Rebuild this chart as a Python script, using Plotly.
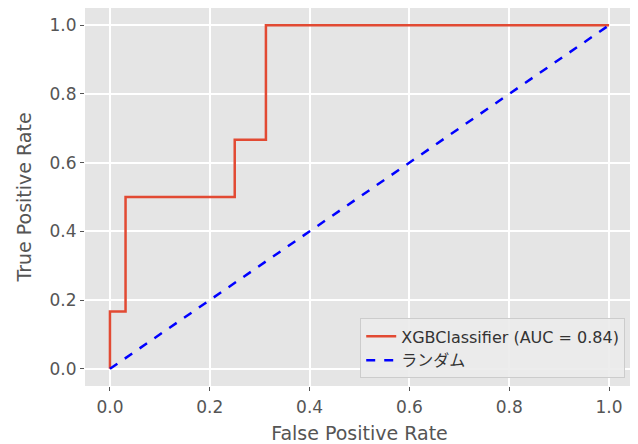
import plotly.graph_objects as go

fpr = [0.0, 0.0, 0.03125, 0.03125, 0.25, 0.25, 0.3125, 0.3125, 1.0]
tpr = [0.0, 0.1667, 0.1667, 0.5, 0.5, 0.6667, 0.6667, 1.0, 1.0]
rand_x = [0.0, 1.0]
rand_y = [0.0, 1.0]
tick_vals = [0.0, 0.2, 0.4, 0.6, 0.8, 1.0]
tick_text = ["0.0", "0.2", "0.4", "0.6", "0.8", "1.0"]

FONT = "DejaVu Sans, Noto Sans CJK JP, sans-serif"

fig = go.Figure()
fig.add_trace(go.Scatter(x=fpr, y=tpr, mode="lines", name="XGBClassifier (AUC = 0.84)",
                         line=dict(color="#E24A33", width=2.5)))
fig.add_trace(go.Scatter(x=rand_x, y=rand_y, mode="lines", name="ランダム",
                         line=dict(color="#0000FF", width=2.5, dash="dash")))

axis_common = dict(range=[-0.05, 1.05], tickvals=tick_vals, ticktext=tick_text,
                   showgrid=True, gridcolor="white", gridwidth=1.5, zeroline=False,
                   showline=False, ticks="outside", ticklen=4, tickwidth=1.2,
                   tickcolor="#555555", automargin=False,
                   tickfont=dict(size=17, color="#555555", family=FONT))

fig.update_layout(
    width=638, height=444,
    margin=dict(l=77, r=12, t=0, b=66, autoexpand=False),
    paper_bgcolor="white", plot_bgcolor="#E5E5E5",
    font=dict(family=FONT, color="#555555"),
    xaxis=dict(title=dict(text="False Positive Rate", font=dict(size=19, color="#555555"), standoff=10),
               ticklabelstandoff=2, **axis_common),
    yaxis=dict(title=dict(text="True Positive Rate", font=dict(size=19, color="#555555"), standoff=12),
               **axis_common),
    legend=dict(x=0.984, y=0.02, xanchor="right", yanchor="bottom",
                bgcolor="rgba(235,235,235,0.9)", bordercolor="#CCCCCC", borderwidth=1,
                font=dict(size=16, color="#333333", family=FONT), tracegroupgap=0),
    showlegend=True,
)

fig.write_html("out.html")
